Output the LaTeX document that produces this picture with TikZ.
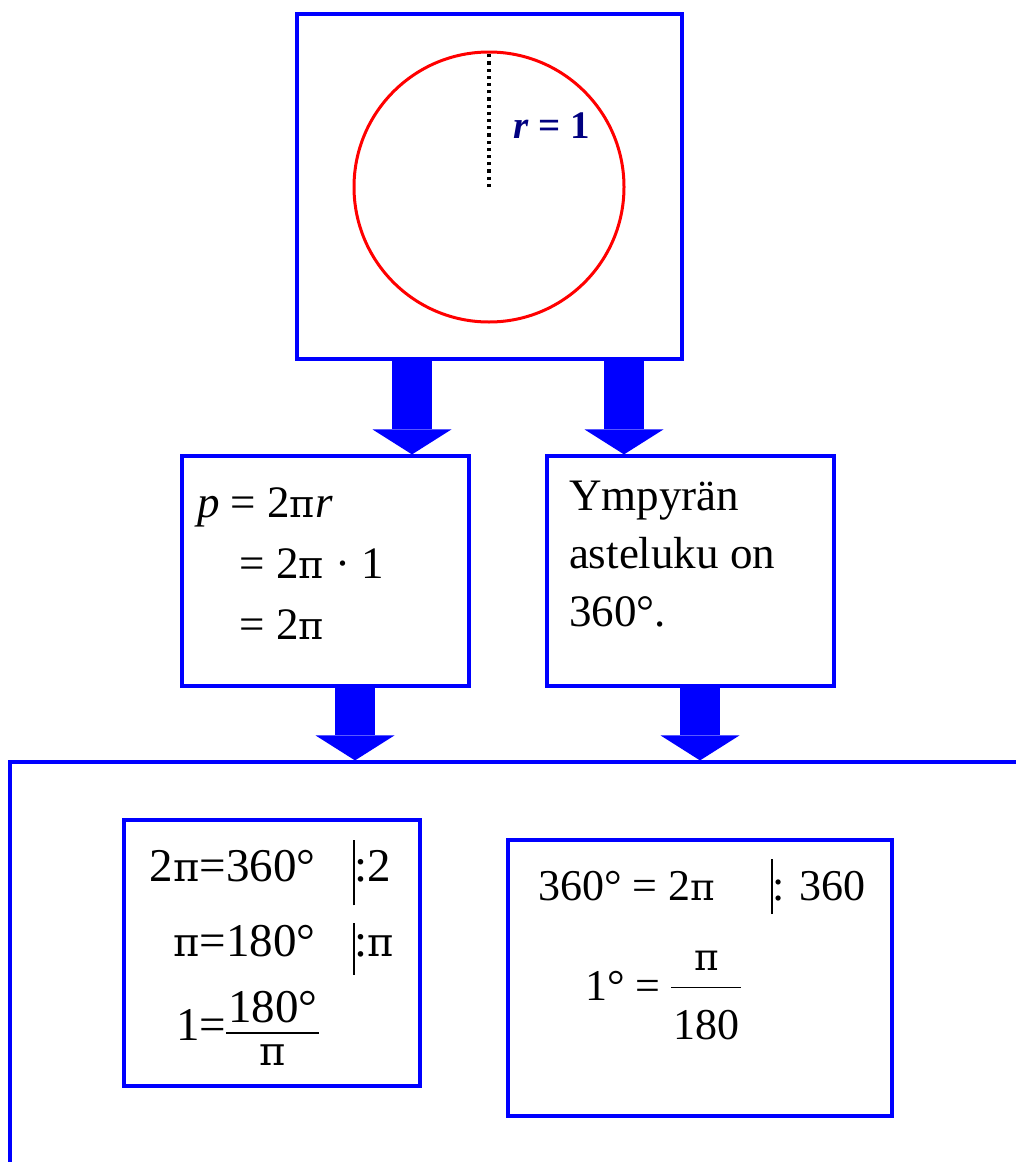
\documentclass[tikz,border=0pt]{standalone}
\usepackage{fontspec}
\usepackage{amsmath}
\newfontfamily\diagramfont{Liberation Serif}
\newfontfamily\pifont{DejaVu Serif}[Scale=0.85]
\usetikzlibrary{arrows.meta,positioning}

\definecolor{frameblue}{RGB}{0,0,255}
\definecolor{labelnavy}{RGB}{0,0,128}
\newcommand{\piglyph}{{\pifont π}}
\newcommand{\divbar}[2]{\rule[-#2]{0.8pt}{\dimexpr#1+#2\relax}}
% fraction: numerator, denominator, numerator lift, bar lift, denominator drop
\newcommand{\slimfrac}[5]{\begingroup
  \setbox0\hbox{#1}\setbox2\hbox{#2}%
  \dimen0=\wd0 \ifdim\wd2>\dimen0 \dimen0=\wd2 \fi
  \advance\dimen0 by 2pt
  \hbox{\raisebox{#3}{\hbox to\dimen0{\hss\box0\hss}}\kern-\dimen0
    \raisebox{#4}{\rule{\dimen0}{0.9pt}}\kern-\dimen0
    \raisebox{-#5}{\hbox to\dimen0{\hss\box2\hss}}}%
  \endgroup}

\begin{document}
\begin{tikzpicture}[x=0.5pt, y=-0.5pt,
    panel/.style={draw=frameblue, line width=1.6pt, inner sep=0pt},
    bigarrow/.style={draw=frameblue, line width=20pt,
        -{Triangle[width=39.5pt, length=12.5pt, line width=0pt]}},
    eqtext/.style={font=\diagramfont\fontsize{22}{22}\selectfont}
  ]
  \useasboundingbox (0,0) rectangle (1016,1162);

  % unit circle
  \node[panel, minimum width=192.5pt, minimum height=172.5pt] (unitbox) at (489.5,186.5) {};
  \node[circle, draw=red, line width=1.5pt, minimum size=135pt, inner sep=0pt] (circ) at (489,187) {};
  \draw[dotted, line width=1.6pt] (circ.center) -- (circ.north);
  \node[text=labelnavy, font=\diagramfont\fontsize{19.5}{19.5}\selectfont\bfseries] (radius) at (552,126) {\textit{r} = 1};

  % perimeter and full angle
  \node[panel, inner xsep=7.5pt, font=\diagramfont\fontsize{22.5}{30.5}\selectfont] (perim) at (325.5,571) {%
    \begin{minipage}[c][115pt][t]{128.5pt}
      \vspace*{15.8pt}%
      \textit{p} = 2\piglyph\textit{r}\\
      \hspace*{4.5pt}\hphantom{\textit{p} }= 2\piglyph{} · 1\\
      \hspace*{4.5pt}\hphantom{\textit{p} }= 2\piglyph
    \end{minipage}};
  \node[panel, inner xsep=11pt, font=\diagramfont\fontsize{22.5}{29}\selectfont] (degbox) at (690.5,571) {%
    \begin{minipage}[c][115pt][t]{121.5pt}
      \vspace*{12.5pt}%
      Ympyrän\\
      asteluku on\\
      360°.
    \end{minipage}};

  % conclusions
  \node[panel, minimum width=510pt, minimum height=209pt] (outer) at (520,971) {};
  \node[panel, eqtext, font=\diagramfont\fontsize{23.5}{23.5}\selectfont,
        minimum width=148pt, minimum height=133pt] (halfbox) at (272,953) {%
    \begin{tabular}{@{}r@{}l@{\hspace{17pt}}l@{}}
      2\piglyph & =360° & \divbar{20.5pt}{12pt}:2\\[13.6pt]
      \piglyph & =180° & \divbar{17pt}{9pt}:\piglyph\\[10.4pt]
      1 & =\slimfrac{180°}{\piglyph}{9pt}{3.5pt}{12.5pt} &
    \end{tabular}};
  \node[panel, eqtext, inner xsep=15pt] (degeq) at (700,978) {%
    \begin{minipage}[c][138pt][t]{162pt}
      \vspace*{9.5pt}%
      \mbox{360° = 2\piglyph\hspace{28pt}\divbar{20.5pt}{7pt}: 360}\par
      \vspace{17.5pt}%
      \hspace*{23.5pt}1° = \slimfrac{\piglyph}{180}{15pt}{6pt}{19.5pt}
    \end{minipage}};

  \coordinate (trackA) at (412,0);
  \coordinate (trackB) at (624,0);
  \coordinate (trackC) at (355,0);
  \coordinate (trackD) at (700,0);
  \draw[bigarrow] (unitbox.south -| trackA) -- (perim.north -| trackA);
  \draw[bigarrow] (unitbox.south -| trackB) -- (degbox.north -| trackB);
  \draw[bigarrow] (perim.south -| trackC) -- (outer.north -| trackC);
  \draw[bigarrow] (degbox.south -| trackD) -- (outer.north -| trackD);
\end{tikzpicture}
\end{document}
